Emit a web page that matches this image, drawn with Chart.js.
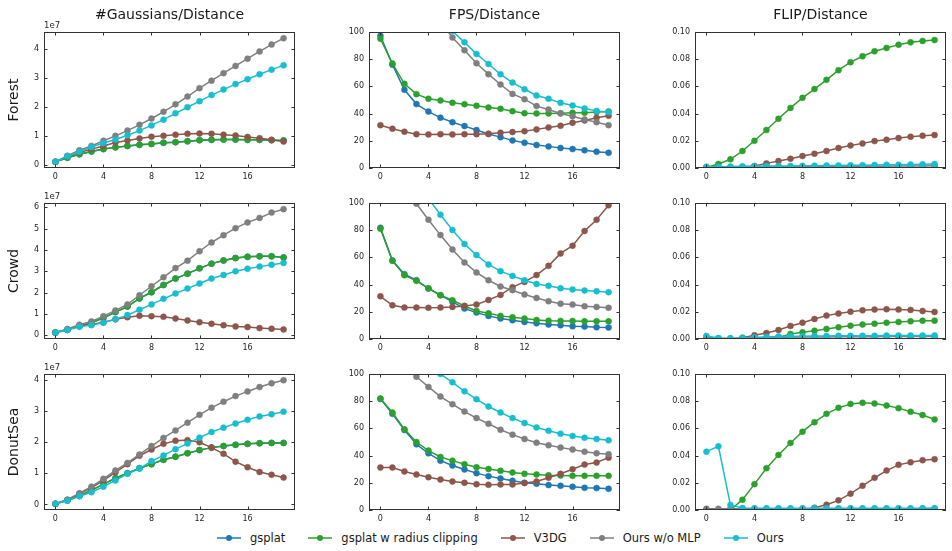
<!DOCTYPE html>
<html>
<head>
<meta charset="utf-8">
<title>Distance study</title>
<script src="https://cdn.jsdelivr.net/npm/chart.js@4.4.1/dist/chart.umd.min.js"></script>
<style>
  html, body { margin: 0; background: #fff; }
  #fig { position: relative; width: 952px; height: 551px; overflow: hidden; font-family: "DejaVu Sans", sans-serif; color: #1a1a1a; }
  #fig canvas { position: absolute; }
  .col-title { position: absolute; top: 14px; font-size: 14px; line-height: 16px; transform: translate(-50%, -50%); white-space: nowrap; }
  .row-label { position: absolute; left: 13px; font-size: 14px; line-height: 16px; transform: translate(-50%, -50%) rotate(-90deg); white-space: nowrap; }
  #legend { position: absolute; left: 217px; top: 530px; display: flex; align-items: center; font-size: 11.5px; line-height: 16px; white-space: nowrap; }
  .lg-item { display: flex; align-items: center; margin-right: 23px; }
  .lg-item svg { margin-right: 9px; }
</style>
</head>
<body>
<div id="fig"></div>
<script>
// ---- data ----
var distances = [0, 1, 2, 3, 4, 5, 6, 7, 8, 9, 10, 11, 12, 13, 14, 15, 16, 17, 18, 19];
var xTicks = [0, 4, 8, 12, 16];

var seriesNames = ['gsplat', 'gsplat w radius clipping', 'V3DG', 'Ours w/o MLP', 'Ours'];
var seriesColors = ['#1f77b4', '#2ca02c', '#8c564b', '#7f7f7f', '#17becf'];
var rowNames = ['Forest', 'Crowd', 'DonutSea'];
var colTitles = ['#Gaussians/Distance', 'FPS/Distance', 'FLIP/Distance'];

// #Gaussians, in units of 1e7
var forestGaussGsplat = [0.10, 0.24, 0.36, 0.46, 0.54, 0.60, 0.65, 0.69, 0.72, 0.76, 0.78, 0.81, 0.85, 0.86, 0.87, 0.87, 0.86, 0.86, 0.85, 0.84];
var forestGaussClip   = [0.10, 0.24, 0.36, 0.46, 0.54, 0.60, 0.65, 0.69, 0.72, 0.76, 0.78, 0.81, 0.85, 0.86, 0.87, 0.87, 0.86, 0.86, 0.85, 0.84];
var forestGaussV3dg   = [0.10, 0.29, 0.42, 0.54, 0.65, 0.77, 0.84, 0.91, 0.97, 1.00, 1.04, 1.07, 1.08, 1.07, 1.04, 1.01, 0.96, 0.92, 0.86, 0.80];
var forestGaussNoMlp  = [0.10, 0.31, 0.50, 0.65, 0.83, 1.00, 1.18, 1.38, 1.60, 1.83, 2.09, 2.36, 2.65, 2.91, 3.17, 3.42, 3.67, 3.92, 4.16, 4.38];
var forestGaussOurs   = [0.10, 0.29, 0.45, 0.61, 0.75, 0.87, 1.02, 1.18, 1.36, 1.56, 1.78, 1.99, 2.20, 2.41, 2.60, 2.79, 2.96, 3.13, 3.29, 3.44];

var crowdGaussGsplat = [0.14, 0.26, 0.44, 0.59, 0.82, 1.09, 1.35, 1.73, 2.02, 2.36, 2.66, 2.89, 3.14, 3.36, 3.51, 3.62, 3.68, 3.70, 3.70, 3.65];
var crowdGaussClip   = [0.14, 0.26, 0.44, 0.59, 0.82, 1.09, 1.35, 1.73, 2.02, 2.36, 2.66, 2.89, 3.14, 3.36, 3.51, 3.62, 3.68, 3.70, 3.70, 3.65];
var crowdGaussV3dg   = [0.12, 0.28, 0.44, 0.51, 0.62, 0.75, 0.85, 0.92, 0.90, 0.87, 0.79, 0.70, 0.62, 0.54, 0.48, 0.42, 0.39, 0.34, 0.31, 0.28];
var crowdGaussNoMlp  = [0.14, 0.30, 0.50, 0.65, 0.90, 1.17, 1.45, 1.88, 2.30, 2.72, 3.15, 3.50, 3.94, 4.35, 4.69, 5.02, 5.29, 5.50, 5.75, 5.91];
var crowdGaussOurs   = [0.12, 0.25, 0.40, 0.48, 0.59, 0.76, 0.95, 1.20, 1.45, 1.71, 1.96, 2.19, 2.43, 2.66, 2.83, 3.00, 3.12, 3.22, 3.31, 3.39];

var donutGaussGsplat = [0.02, 0.13, 0.28, 0.45, 0.65, 0.84, 1.00, 1.16, 1.29, 1.43, 1.53, 1.64, 1.74, 1.82, 1.87, 1.91, 1.94, 1.96, 1.97, 1.97];
var donutGaussClip   = [0.02, 0.13, 0.28, 0.45, 0.65, 0.84, 1.00, 1.16, 1.29, 1.43, 1.53, 1.64, 1.74, 1.82, 1.87, 1.91, 1.94, 1.96, 1.97, 1.97];
var donutGaussV3dg   = [0.02, 0.15, 0.34, 0.53, 0.77, 1.03, 1.29, 1.56, 1.76, 1.94, 2.04, 2.06, 1.99, 1.82, 1.62, 1.37, 1.19, 1.04, 0.95, 0.86];
var donutGaussNoMlp  = [0.02, 0.15, 0.36, 0.57, 0.82, 1.09, 1.33, 1.60, 1.87, 2.13, 2.37, 2.62, 2.87, 3.10, 3.29, 3.47, 3.62, 3.76, 3.88, 3.98];
var donutGaussOurs   = [0.02, 0.12, 0.26, 0.39, 0.57, 0.77, 0.98, 1.15, 1.39, 1.57, 1.77, 1.95, 2.14, 2.32, 2.46, 2.59, 2.71, 2.82, 2.89, 2.97];

// FPS (null = above the visible range, not readable)
var forestFpsGsplat = [97.3, 76.0, 57.5, 47.0, 41.5, 37.0, 33.7, 30.8, 27.9, 25.0, 22.7, 20.3, 18.6, 16.9, 15.9, 14.7, 13.9, 13.0, 12.0, 11.2];
var forestFpsClip   = [95.1, 76.8, 61.9, 54.3, 50.9, 49.6, 47.9, 46.9, 45.7, 44.5, 43.5, 41.8, 40.3, 40.1, 40.1, 40.3, 40.6, 40.6, 41.1, 41.6];
var forestFpsV3dg   = [31.5, 28.9, 26.7, 24.9, 24.7, 24.9, 24.7, 24.9, 24.9, 25.2, 25.9, 26.4, 27.1, 28.4, 29.8, 31.0, 33.3, 35.0, 36.9, 38.4];
var forestFpsNoMlp  = [null, null, null, null, null, 108, 96.0, 86.6, 77.0, 69.0, 61.4, 54.5, 50.6, 45.5, 43.0, 40.1, 38.1, 35.7, 33.7, 31.5];
var forestFpsOurs   = [null, null, null, null, null, null, 100.7, 92.4, 83.9, 76.5, 68.9, 62.8, 57.9, 53.3, 50.9, 47.9, 46.0, 43.8, 42.0, 41.0];

var crowdFpsGsplat = [81.8, 57.7, 47.7, 43.2, 37.1, 32.2, 27.3, 22.4, 19.4, 17.0, 15.0, 13.8, 12.5, 11.5, 10.6, 10.1, 9.3, 9.1, 8.6, 8.4];
var crowdFpsClip   = [81.1, 57.5, 46.9, 42.8, 37.3, 32.2, 28.5, 24.3, 20.6, 18.9, 17.0, 16.0, 15.0, 14.0, 13.5, 13.3, 13.3, 13.0, 13.0, 13.0];
var crowdFpsV3dg   = [31.4, 24.8, 23.1, 23.1, 22.9, 23.1, 23.6, 24.3, 25.3, 28.7, 32.4, 38.1, 42.0, 47.0, 53.8, 62.9, 68.6, 79.4, 87.7, 98.3];
var crowdFpsNoMlp  = [null, null, null, 99.5, 87.7, 76.4, 65.8, 56.3, 48.9, 43.2, 38.6, 35.9, 32.7, 30.2, 27.8, 26.0, 25.3, 24.1, 23.6, 22.9];
var crowdFpsOurs   = [null, null, null, null, 103.3, 91.4, 80.1, 69.8, 61.7, 54.8, 49.9, 46.4, 43.2, 40.5, 39.1, 37.3, 36.4, 35.6, 35.1, 34.4];

var donutFpsGsplat = [81.7, 70.7, 58.8, 48.3, 41.7, 36.3, 32.7, 29.8, 27.1, 24.9, 23.2, 21.5, 20.0, 19.3, 18.3, 17.8, 17.1, 16.3, 16.1, 15.6];
var donutFpsClip   = [82.0, 71.7, 59.3, 50.0, 43.7, 39.0, 36.3, 33.7, 31.5, 30.2, 28.8, 27.6, 26.6, 26.1, 25.6, 25.4, 25.1, 25.1, 25.1, 25.1];
var donutFpsV3dg   = [31.2, 31.2, 28.3, 26.1, 24.1, 22.4, 21.0, 20.0, 19.0, 18.5, 18.8, 18.8, 19.8, 21.0, 23.7, 26.6, 30.0, 33.4, 34.9, 38.5];
var donutFpsNoMlp  = [null, null, null, 98.0, 90.5, 83.4, 77.8, 72.4, 67.6, 63.4, 59.0, 55.4, 52.2, 49.5, 47.6, 45.9, 44.4, 42.9, 41.7, 41.0];
var donutFpsOurs   = [null, null, null, null, null, 100, 93.9, 87.3, 81.5, 76.1, 71.7, 67.6, 63.9, 60.7, 58.3, 56.1, 54.4, 53.2, 52.2, 51.2];

// FLIP
var forestFlipGsplat = [0, 0, 0, 0, 0, 0, 0, 0, 0, 0, 0, 0, 0, 0, 0, 0, 0, 0, 0, 0];
var forestFlipClip   = [0.0003, 0.003, 0.0064, 0.0125, 0.020, 0.0279, 0.0362, 0.0442, 0.0516, 0.058, 0.0648, 0.0719, 0.0778, 0.0822, 0.0858, 0.0883, 0.0907, 0.0924, 0.0934, 0.0941];
var forestFlipV3dg   = [0, 0, 0, 0.0005, 0.0015, 0.0034, 0.0051, 0.0068, 0.0088, 0.0105, 0.0125, 0.0147, 0.0166, 0.0181, 0.0198, 0.0208, 0.022, 0.023, 0.0237, 0.0242];
var forestFlipNoMlp  = [0.0005, 0.0006, 0.0006, 0.0007, 0.0008, 0.0008, 0.0009, 0.0009, 0.001, 0.001, 0.0011, 0.0011, 0.0012, 0.0012, 0.0013, 0.0013, 0.0014, 0.0014, 0.0015, 0.0016];
var forestFlipOurs   = [0.001, 0.001, 0.0011, 0.0012, 0.0013, 0.0014, 0.0015, 0.0015, 0.0016, 0.0017, 0.0018, 0.0019, 0.002, 0.0021, 0.0022, 0.0023, 0.0024, 0.0025, 0.0027, 0.003];

var crowdFlipGsplat = [0, 0, 0, 0, 0, 0, 0, 0, 0, 0, 0, 0, 0, 0, 0, 0, 0, 0, 0, 0];
var crowdFlipClip   = [0, 0, 0, 0, 0.0002, 0.0005, 0.0012, 0.0037, 0.0049, 0.0061, 0.0074, 0.0086, 0.0098, 0.0106, 0.0113, 0.012, 0.0125, 0.013, 0.0135, 0.0135];
var crowdFlipV3dg   = [0, 0, 0, 0.001, 0.0027, 0.0044, 0.0066, 0.0096, 0.012, 0.0147, 0.0172, 0.0187, 0.0201, 0.0211, 0.0216, 0.0219, 0.0216, 0.0214, 0.0206, 0.0199];
var crowdFlipNoMlp  = [0.0015, 0.0005, 0.0004, 0.0005, 0.0008, 0.001, 0.0012, 0.0013, 0.0014, 0.0015, 0.0015, 0.0016, 0.0016, 0.0017, 0.0017, 0.0018, 0.0018, 0.0018, 0.0019, 0.0019];
var crowdFlipOurs   = [0.0022, 0.0007, 0.0005, 0.0007, 0.0012, 0.0015, 0.0018, 0.002, 0.0021, 0.0022, 0.0022, 0.0023, 0.0023, 0.0024, 0.0024, 0.0025, 0.0025, 0.0025, 0.0026, 0.0026];

var donutFlipGsplat = [0, 0, 0, 0, 0, 0, 0, 0, 0, 0, 0, 0, 0, 0, 0, 0, 0, 0, 0, 0];
var donutFlipClip   = [0, 0, 0, 0.0076, 0.019, 0.0307, 0.0405, 0.0493, 0.0576, 0.0646, 0.0707, 0.0751, 0.078, 0.0788, 0.0783, 0.0768, 0.0749, 0.0722, 0.0698, 0.0666];
var donutFlipV3dg   = [0.0002, 0, 0, 0, 0, 0, 0, 0, 0, 0.0017, 0.0039, 0.0071, 0.012, 0.0178, 0.0237, 0.029, 0.0332, 0.0351, 0.0366, 0.0373];
var donutFlipNoMlp  = [0.0009, 0.0009, 0.001, 0.001, 0.001, 0.001, 0.001, 0.001, 0.001, 0.001, 0.001, 0.001, 0.001, 0.001, 0.001, 0.001, 0.001, 0.001, 0.0011, 0.0011];
var donutFlipOurs   = [0.0429, 0.0468, 0.0037, 0.0015, 0.0012, 0.0012, 0.0012, 0.0012, 0.0012, 0.0012, 0.0012, 0.0012, 0.0012, 0.0012, 0.0012, 0.0012, 0.0012, 0.0012, 0.0013, 0.0013];

var gaussTicksForest = [0, 1, 2, 3, 4];
var gaussTicksCrowd = [0, 1, 2, 3, 4, 5, 6];
var gaussTicksDonut = [0, 1, 2, 3, 4];
var fpsTicks = [0, 20, 40, 60, 80, 100];
var flipTicks = [0, 0.02, 0.04, 0.06, 0.08, 0.10];

// ---- layout ----
var colLeft = [44, 369, 695];
var rowTop = [32, 203, 374];
var plotW = 251, plotH = 136;
var axisW = 42, axisH = 16, padTop = 16, padRight = 8;
var xMin = -0.95, xMax = 19.95;

Chart.defaults.font.family = '"DejaVu Sans", sans-serif';
Chart.defaults.color = '#262626';

function fmtInt(v) { return String(v); }
function fmtFlip(v) { return v.toFixed(2); }

// matplotlib-like box with inward ticks on all four sides, plus the offset label
var framePlugin = {
    id: 'frame',
    afterDraw: function (chart, args, opts) {
        var ctx = chart.ctx, a = chart.chartArea;
        var xs = chart.scales.x, ys = chart.scales.y;
        var len = 3.5;
        ctx.save();
        ctx.strokeStyle = '#333';
        ctx.lineWidth = 1;
        ctx.beginPath();
        xs.ticks.forEach(function (t) {
            var px = Math.round(xs.getPixelForValue(t.value)) + 0.5;
            ctx.moveTo(px, a.bottom); ctx.lineTo(px, a.bottom - len);
            ctx.moveTo(px, a.top); ctx.lineTo(px, a.top + len);
        });
        ys.ticks.forEach(function (t) {
            var py = Math.round(ys.getPixelForValue(t.value)) + 0.5;
            ctx.moveTo(a.left, py); ctx.lineTo(a.left + len, py);
            ctx.moveTo(a.right, py); ctx.lineTo(a.right - len, py);
        });
        ctx.stroke();
        ctx.strokeRect(a.left + 0.5, a.top + 0.5, a.right - a.left - 1, a.bottom - a.top - 1);
        if (opts && opts.offsetText) {
            ctx.fillStyle = '#262626';
            ctx.font = '8.5px "DejaVu Sans", sans-serif';
            ctx.textBaseline = 'bottom';
            ctx.textAlign = 'left';
            ctx.fillText(opts.offsetText, a.left, a.top - 2);
        }
        ctx.restore();
    }
};

function padRange(list) {
    var lo = Infinity, hi = -Infinity;
    list.forEach(function (arr) { arr.forEach(function (v) { if (v != null) { lo = Math.min(lo, v); hi = Math.max(hi, v); } }); });
    var m = (hi - lo) * 0.05;
    return [lo - m, hi + m];
}

var fig = document.getElementById('fig');

function buildPanel(p) {
    var canvas = document.createElement('canvas');
    canvas.width = axisW + plotW + padRight;
    canvas.height = padTop + plotH + axisH;
    canvas.style.left = (colLeft[p.col] - axisW) + 'px';
    canvas.style.top = (rowTop[p.row] - padTop) + 'px';
    fig.appendChild(canvas);

    var datasets = p.series.map(function (vals, i) {
        return {
            label: seriesNames[i],
            data: vals,
            borderColor: seriesColors[i],
            backgroundColor: seriesColors[i],
            pointBackgroundColor: seriesColors[i],
            pointBorderColor: seriesColors[i],
            borderWidth: 1.5,
            pointRadius: 3,
            pointBorderWidth: 0.5,
            tension: 0,
            clip: 0,
            order: seriesNames.length - i
        };
    });

    new Chart(canvas.getContext('2d'), {
        type: 'line',
        data: { labels: distances, datasets: datasets },
        options: {
            responsive: false,
            animation: false,
            events: [],
            layout: { padding: { top: padTop, right: padRight, left: 0, bottom: 0 } },
            plugins: { legend: { display: false }, tooltip: { enabled: false }, frame: { offsetText: p.offset } },
            scales: {
                x: {
                    type: 'linear', bounds: 'data', min: xMin, max: xMax,
                    grid: { display: false, drawTicks: false }, border: { display: false },
                    ticks: { font: { size: 8 }, padding: 4, maxRotation: 0, callback: fmtInt },
                    afterBuildTicks: function (s) { s.ticks = xTicks.map(function (v) { return { value: v }; }); },
                    afterFit: function (s) { s.height = axisH; }
                },
                y: {
                    type: 'linear', bounds: 'data', min: p.yRange[0], max: p.yRange[1],
                    grid: { display: false, drawTicks: false }, border: { display: false },
                    ticks: { font: { size: 8 }, padding: 5, callback: p.fmt },
                    afterBuildTicks: function (s) { s.ticks = p.yTicks.map(function (v) { return { value: v }; }); },
                    afterFit: function (s) { s.width = axisW; }
                }
            }
        },
        plugins: [framePlugin]
    });
}

var forestGauss = [forestGaussGsplat, forestGaussClip, forestGaussV3dg, forestGaussNoMlp, forestGaussOurs];
var crowdGauss = [crowdGaussGsplat, crowdGaussClip, crowdGaussV3dg, crowdGaussNoMlp, crowdGaussOurs];
var donutGauss = [donutGaussGsplat, donutGaussClip, donutGaussV3dg, donutGaussNoMlp, donutGaussOurs];

var panels = [
    { row: 0, col: 0, series: forestGauss, yTicks: gaussTicksForest, yRange: padRange(forestGauss), fmt: fmtInt, offset: '1e7' },
    { row: 0, col: 1, series: [forestFpsGsplat, forestFpsClip, forestFpsV3dg, forestFpsNoMlp, forestFpsOurs], yTicks: fpsTicks, yRange: [0, 100], fmt: fmtInt },
    { row: 0, col: 2, series: [forestFlipGsplat, forestFlipClip, forestFlipV3dg, forestFlipNoMlp, forestFlipOurs], yTicks: flipTicks, yRange: [0, 0.1], fmt: fmtFlip },
    { row: 1, col: 0, series: crowdGauss, yTicks: gaussTicksCrowd, yRange: padRange(crowdGauss), fmt: fmtInt, offset: '1e7' },
    { row: 1, col: 1, series: [crowdFpsGsplat, crowdFpsClip, crowdFpsV3dg, crowdFpsNoMlp, crowdFpsOurs], yTicks: fpsTicks, yRange: [0, 100], fmt: fmtInt },
    { row: 1, col: 2, series: [crowdFlipGsplat, crowdFlipClip, crowdFlipV3dg, crowdFlipNoMlp, crowdFlipOurs], yTicks: flipTicks, yRange: [0, 0.1], fmt: fmtFlip },
    { row: 2, col: 0, series: donutGauss, yTicks: gaussTicksDonut, yRange: padRange(donutGauss), fmt: fmtInt, offset: '1e7' },
    { row: 2, col: 1, series: [donutFpsGsplat, donutFpsClip, donutFpsV3dg, donutFpsNoMlp, donutFpsOurs], yTicks: fpsTicks, yRange: [0, 100], fmt: fmtInt },
    { row: 2, col: 2, series: [donutFlipGsplat, donutFlipClip, donutFlipV3dg, donutFlipNoMlp, donutFlipOurs], yTicks: flipTicks, yRange: [0, 0.1], fmt: fmtFlip }
];
panels.forEach(buildPanel);

// column titles and row labels
colTitles.forEach(function (t, c) {
    var d = document.createElement('div');
    d.className = 'col-title';
    d.textContent = t;
    d.style.left = (colLeft[c] + plotW / 2) + 'px';
    fig.appendChild(d);
});
rowNames.forEach(function (t, r) {
    var d = document.createElement('div');
    d.className = 'row-label';
    d.textContent = t;
    d.style.top = (rowTop[r] + plotH / 2) + 'px';
    fig.appendChild(d);
});

// figure legend
var legend = document.createElement('div');
legend.id = 'legend';
seriesNames.forEach(function (name, i) {
    var item = document.createElement('div');
    item.className = 'lg-item';
    var col = seriesColors[i];
    item.innerHTML = '<svg width="24" height="8"><line x1="0" y1="4" x2="24" y2="4" stroke="' + col + '" stroke-width="1.5"/>'
        + '<circle cx="12" cy="4" r="3" fill="' + col + '"/></svg><span></span>';
    item.querySelector('span').textContent = name;
    legend.appendChild(item);
});
fig.appendChild(legend);
</script>
</body>
</html>
